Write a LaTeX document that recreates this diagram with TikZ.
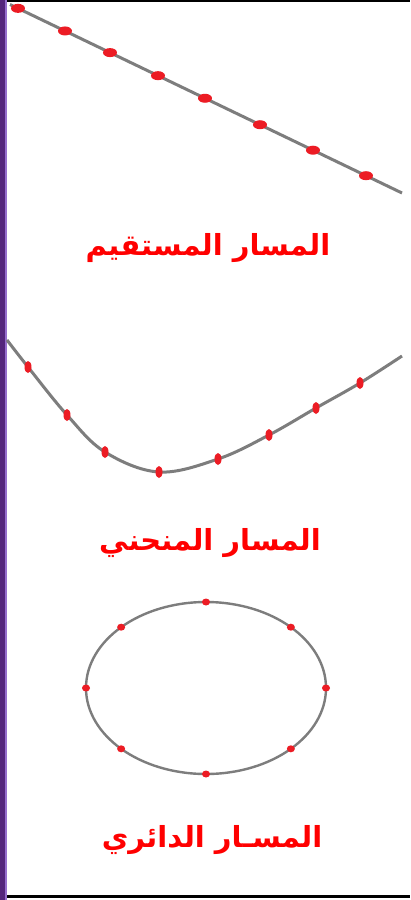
\documentclass[tikz,border=0pt]{standalone}
\usepackage{fontspec}
\usepackage{tikz}
\usetikzlibrary{calc,positioning}
\TeXXeTstate=1
\newfontfamily\arabicfont[Script=Arabic]{DejaVu Sans}
\definecolor{pathGray}{RGB}{125,125,125}
\definecolor{dotRed}{RGB}{236,28,36}
\definecolor{titleRed}{RGB}{255,0,0}
\definecolor{barPurple}{RGB}{84,38,124}
\definecolor{barLilac}{RGB}{150,110,205}

\begin{document}
\begin{tikzpicture}[x=1pt,y=-1pt,
  title/.style={text=titleRed,inner sep=0pt,
    font=\arabicfont\bfseries\fontsize{29}{34}\selectfont},
  track/.style={draw=pathGray,line width=3pt},
  ring/.style={draw=pathGray,line width=2.4pt}]
  \useasboundingbox (0,0) rectangle (410,900);
  \fill[white] (0,0) rectangle (410,900);
  % frame
  \fill[barPurple] (0,0) rectangle (5.5,900);
  \draw[barLilac,line width=1.5pt] (6.2,0) -- (6.2,900);
  \draw[black,line width=2pt] (7,1) -- (410,1);
  \draw[black,line width=3pt] (7,896) -- (410,896);
  % straight path
  \coordinate (s0) at (10,4.5); \coordinate (s1) at (402,193);
  \draw[track] (s0) -- (s1);
  \foreach \x in {18,65,110,158,205,260,313,366}
    \fill[dotRed] ($(s0)!{(\x-10)/392}!(s1)$) ellipse (7pt and 4.5pt);
  \node[title] (straight) at (208,248) {\beginR المسار المستقيم\endR};
  % curved path
  \draw[track] plot[smooth,tension=0.6] coordinates {(7,340) (28,367) (67,415) (105,452)
    (159,472) (218,459) (269,435) (316,408) (360,383) (402,356)};
  \foreach \p in {(28,367),(67,415),(105,452),(159,472),(218,459),(269,435),(316,408),(360,383)}
    \fill[dotRed] \p ellipse (3.5pt and 6pt);
  \node[title] (curved) at (210,543) {\beginR المسار المنحني\endR};
  % circular path
  \coordinate (c) at (206,688);
  \draw[ring] (c) ellipse (120pt and 86pt);
  \foreach \a in {0,45,...,315}
    \fill[dotRed] ($(c)+({120*cos(\a)},{86*sin(\a)})$) ellipse (4pt and 3.5pt);
  \node[title] (circular) at (212,840) {\beginR المسـار الدائري\endR};
\end{tikzpicture}
\end{document}
